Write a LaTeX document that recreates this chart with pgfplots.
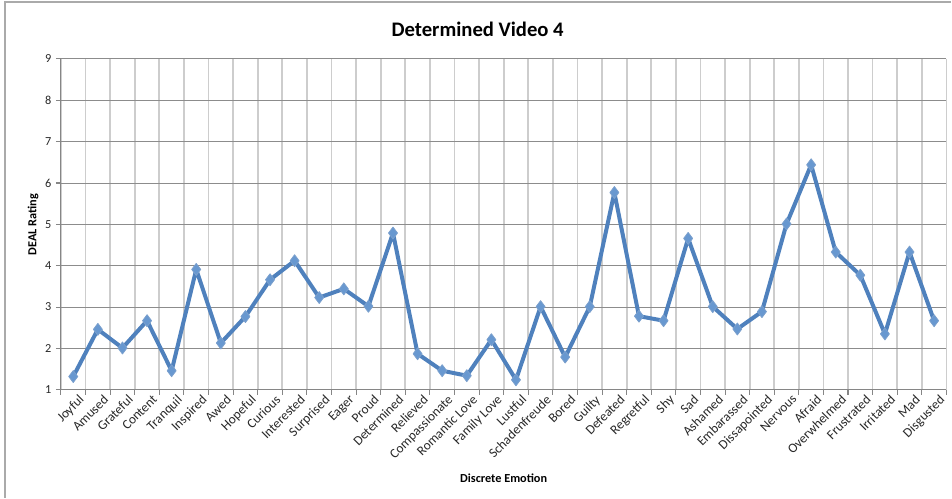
\documentclass[border=0pt]{standalone}
\usepackage{fontspec}
\setmainfont{Carlito}
\usepackage{pgfplots}
\pgfplotsset{compat=1.18}
\usepackage{pgfplotstable}

\definecolor{serieblue}{RGB}{79,129,189}
\definecolor{markfill}{RGB}{104,152,208}
\definecolor{hgrid}{RGB}{140,140,140}
\definecolor{vgrid}{RGB}{205,205,205}
\definecolor{axisgray}{RGB}{134,134,134}
\definecolor{framegray}{RGB}{170,170,170}
\definecolor{labelgray}{RGB}{40,40,40}

% DEAL ratings, one row per discrete emotion (x = category index)
\pgfplotstableread{
x  rating
0  1.32
1  2.46
2  2.01
3  2.67
4  1.46
5  3.91
6  2.13
7  2.77
8  3.66
9  4.12
10 3.23
11 3.44
12 3.02
13 4.79
14 1.87
15 1.46
16 1.34
17 2.21
18 1.24
19 3.01
20 1.79
21 3.01
22 5.77
23 2.78
24 2.67
25 4.66
26 3.01
27 2.47
28 2.89
29 5.01
30 6.44
31 4.33
32 3.77
33 2.35
34 4.33
35 2.67
}\dealdata

\begin{document}
\begin{tikzpicture}
  % page area (952 x 498 px at 0.75pt per px) and chart frame
  \draw[framegray, line width=0.9pt] (3.75pt,0pt) -- (3.75pt,372pt) -- (714pt,372pt);
  \path (0pt,0pt) rectangle (714pt,373.5pt);

  \begin{axis}[
    at={(45.75pt,81pt)}, anchor=south west,
    scale only axis,
    width=664.5pt, height=248.25pt,
    xmin=-0.5, xmax=35.5,
    ymin=1, ymax=9,
    ytick={1,...,9},
    xtick={0,...,35},
    xticklabels={Joyful, Amused, Grateful, Content, Tranquil, Inspired, Awed,
      Hopeful, Curious, Interested, Surprised, Eager, Proud, Determined,
      Relieved, Compassionate, Romantic Love, Family Love, Lustful,
      Schadenfreude, Bored, Guilty, Defeated, Regretful, Shy, Sad, Ashamed,
      Embarassed, Dissapointed, Nervous, Afraid, Overwhelmed, Frustrated,
      Irritated, Mad, Disgusted},
    minor xtick={-0.5,0.5,...,35.5},
    axis x line*=bottom, axis y line*=left,
    axis line style={axisgray, line width=0.8pt},
    tick align=outside,
    major tick length=3.75pt,
    minor tick length=3.75pt,
    major x tick style={draw=none},
    tick style={axisgray, line width=0.8pt},
    ymajorgrids=true, xmajorgrids=false, xminorgrids=true,
    major grid style={hgrid, line width=0.7pt},
    minor grid style={vgrid, line width=1.3pt},
    /pgf/number format/assume math mode=true,
    yticklabel style={font=\fontsize{9.2}{10}\selectfont, text=labelgray},
    xticklabel style={font=\fontsize{10}{11}\selectfont, text=labelgray,
      rotate=45, anchor=north east, inner sep=1pt, xshift=4pt, yshift=-1pt},
    clip=false,
  ]
    \addplot[serieblue, line width=3pt, line join=round,
      mark=diamond*, mark size=4.5pt,
      mark options={fill=markfill, draw=serieblue!75!white, line width=0.6pt}]
      table[x=x, y=rating] {\dealdata};
  \end{axis}

  % chart title and axis titles
  \node[font=\fontsize{15.5}{18}\selectfont\bfseries] at (358.5pt,351.75pt)
    {Determined Video 4};
  \node[font=\fontsize{9.2}{11}\selectfont\bfseries] at (378pt,14.25pt)
    {Discrete Emotion};
  \node[font=\fontsize{9.2}{11}\selectfont\bfseries, rotate=90] at (24.75pt,204.75pt)
    {DEAL Rating};
\end{tikzpicture}
\end{document}
